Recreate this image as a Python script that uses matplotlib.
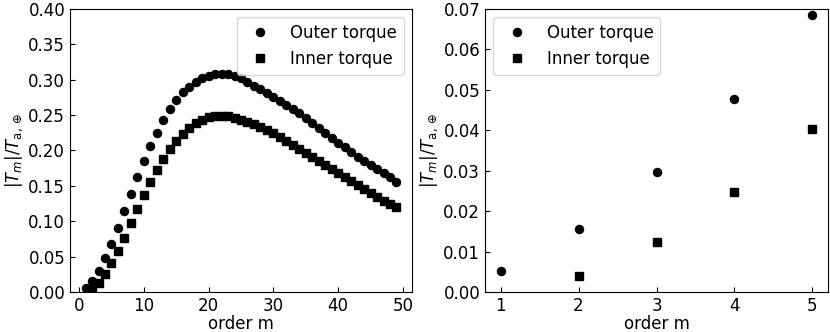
import numpy as np
import matplotlib
matplotlib.use("Agg")
import matplotlib.pyplot as plt

# torque amplitude per order m
m_outer = list(range(1, 50))
outer = [0.0053, 0.0155, 0.0298, 0.0477, 0.0685, 0.0905, 0.115, 0.139, 0.162, 0.185,
         0.206, 0.225, 0.243, 0.258, 0.271, 0.282, 0.290, 0.297, 0.302, 0.3055,
         0.3075, 0.308, 0.3075, 0.3055, 0.302, 0.2965, 0.2915, 0.287, 0.281, 0.276,
         0.2705, 0.264, 0.258, 0.2525, 0.2455, 0.2385, 0.2315, 0.2245, 0.2175, 0.211,
         0.2045, 0.1975, 0.191, 0.1855, 0.1795, 0.1735, 0.1685, 0.163, 0.156]

m_inner = list(range(2, 50))
inner = [0.0039, 0.0124, 0.0248, 0.0403, 0.058, 0.077, 0.098, 0.118, 0.137,
         0.155, 0.172, 0.1875, 0.2017, 0.2134, 0.224, 0.232, 0.239, 0.2435, 0.247,
         0.2487, 0.249, 0.2485, 0.2465, 0.2435, 0.2405, 0.237, 0.2327, 0.229, 0.2243,
         0.2186, 0.2134, 0.2077, 0.2025, 0.197, 0.1915, 0.1855, 0.1795, 0.1735, 0.1677,
         0.162, 0.157, 0.151, 0.1455, 0.140, 0.1347, 0.129, 0.1243, 0.1197]

# zoom on the first five orders
m_few = [1, 2, 3, 4, 5]
outer_few = outer[:5]
m_few_inner = [2, 3, 4, 5]
inner_few = inner[:4]

plt.rcParams['font.size'] = 12

fig = plt.figure(figsize=(8.3, 3.32), dpi=100)
ax1 = fig.add_axes([70/830, 40/332, 342/830, 283/332])
ax2 = fig.add_axes([485/830, 40/332, 343/830, 283/332])

ylab = r'$|T_m|/T_{\mathrm{a},\oplus}$'

ax1.plot(m_outer, outer, 'o', color='black', markersize=5.8, label='Outer torque')
ax1.plot(m_inner, inner, 's', color='black', markersize=5.8, label='Inner torque')
ax1.set_ylim(0, 0.4)
ax1.set_xticks([0, 10, 20, 30, 40, 50])
ax1.set_xlabel('order m', labelpad=0)
ax1.set_ylabel(ylab, labelpad=2)
ax1.tick_params(direction='in')
ax1.legend(loc='upper right')

ax2.plot(m_few, outer_few, 'o', color='black', markersize=5.8, label='Outer torque')
ax2.plot(m_few_inner, inner_few, 's', color='black', markersize=5.8, label='Inner torque')
ax2.set_ylim(0, 0.07)
ax2.set_xticks([1, 2, 3, 4, 5])
ax2.set_xlabel('order m', labelpad=0)
ax2.set_ylabel(ylab, labelpad=2)
ax2.tick_params(direction='in')
ax2.legend(loc='upper left')

fig.savefig('out.png', dpi=100)
